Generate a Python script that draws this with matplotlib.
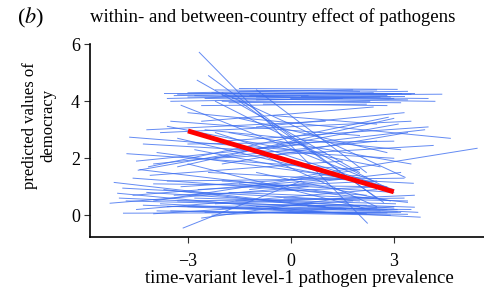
import matplotlib.pyplot as plt

# country-level predicted lines (start x, start y, end x, end y)
x_start = [-3.7, -3.3, -2.0, -1.5, -3.0, -2.5, -1.0, -3.5, -0.5, -2.2, -1.8, -2.8, 0.0, -1.2, -3.6, -2.6, -0.8, -1.5,
           -3.4, -2.3, -1.0, -3.0, -2.0, 0.3, -1.7,
           -2.67, -2.4, -2.73, -3.2, -3.6, -2.0, -1.5, -1.0, -2.2,
           -4.7, -4.78, -4.3, -3.5, -3.0, 0.0, -4.0, -3.8, -2.5, -2.0, -1.5, -4.1, -3.3, -2.0, -1.0, -2.8, -3.9, -0.5,
           -4.5, -2.2, -4.15, -4.45, -3.0, -1.8, -4.2, -2.6, -0.5,
           -5.27, -5.15, -4.88, -3.14, -4.9, -5.0, -4.5, -4.2, -4.6, -3.8, -3.5, -3.0, -2.5, -2.0, -3.2, -2.8, -4.0,
           -1.5, -3.6, -2.4, -1.8, -4.4, -2.2, -1.0, -3.0, -4.0, -0.5, -2.6, -3.4, -1.2, -5.05, -4.3, -3.7, -2.0,
           0.5, -1.6, -1.0, -3.3, -2.2, -0.2,
           -4.8, -3.9, -3.3, -2.7, -4.0, -1.5, -2.3, -3.6, -4.6, -1.0]
y_start = [4.3, 4.25, 4.2, 4.35, 4.15, 4.1, 4.05, 4.0, 4.3, 4.4, 3.95, 4.2, 4.1, 4.2, 4.1, 3.85, 3.9, 4.45,
           4.2, 4.3, 4.15, 4.3, 4.0, 4.2, 4.1,
           5.72, 4.9, 4.74, 3.86, 3.12, 4.3, 4.0, 4.4, 4.0,
           2.74, 2.16, 2.5, 3.3, 3.6, 1.3, 1.8, 2.9, 3.0, 2.6, 3.4, 1.4, 1.7, 1.8, 3.1, 2.3, 2.2, 3.5,
           1.9, 2.0, 1.7, 1.58, 2.5, 2.9, 3.0, 3.3, 2.4,
           0.42, 1.15, 0.07, -0.45, 0.95, 0.6, 0.2, 0.8, 1.3, 0.4, 0.15, 0.3, 0.1, 0.25, 1.0, 0.6, 0.05,
           0.1, 1.2, 1.5, 0.8, 1.6, 0.4, 1.5, 1.8, 0.5, 0.2, -0.1, 0.7, 0.9, 0.77, 0.35, 0.9, 1.2,
           0.3, 0.5, 2.2, 2.7, 2.9, 0.6,
           0.5, 0.15, 0.5, 0.9, 1.1, 1.1, 0.0, 0.3, 0.7, 0.3]
x_end = [3.2, 3.4, 4.4, 2.5, 2.8, 4.2, 3.0, 1.5, 3.6, 2.0, 2.3, 3.4, 2.6, 3.0, 0.5, 2.2, 2.8, 3.1,
         2.4, 3.5, 4.0, 1.8, 3.2, 3.3, 2.9,
         2.23, 2.5, 2.0, 2.4, 2.6, 3.33, 2.7, 2.2, 2.9,
         1.0, 2.0, 3.0, 2.0, 4.65, 5.43, 2.5, 3.5, 3.2, 4.0, 2.8, 1.5, 3.0, 3.4, 3.3, 2.8, 1.8, 2.5,
         0.5, 4.15, 2.84, 3.13, 3.0, 3.5, 1.0, 2.4, 3.9,
         0.5, 1.0, 3.2, 0.3, 2.0, 2.8, 2.5, 3.0, 2.2, 3.77, 3.4, 2.6, 3.1, 3.5, 2.0, 3.05, 1.8,
         2.8, 3.3, 3.57, 2.4, 1.2, 3.6, 2.9, 2.3, 2.0, 2.5, 1.5, 2.7, 3.2, 1.0, 2.2, 1.6, 3.0,
         3.7, 3.6, 2.5, 2.4, 3.0, 3.4,
         2.0, 2.9, 3.3, 2.5, 2.6, 3.4, 3.0, 2.2, 1.5, 3.1]
y_end = [4.3, 4.35, 4.25, 4.4, 4.2, 4.0, 4.1, 4.1, 4.3, 4.35, 4.0, 4.05, 4.15, 4.25, 4.2, 3.9, 3.85, 4.42,
         4.3, 4.25, 4.1, 4.4, 3.95, 4.2, 4.15,
         -0.28, 0.6, 1.5, 1.2, 1.7, 1.33, 0.45, 1.5, 0.9,
         2.2, 1.6, 2.0, 2.8, 2.7, 2.35, 2.6, 3.3, 2.3, 3.1, 2.2, 1.9, 3.4, 2.9, 3.6, 1.0, 1.3, 3.2,
         2.5, 2.45, 3.44, 3.2, 2.6, 1.8, 3.3, 3.8, 3.0,
         1.0, 0.3, 0.1, 1.2, 0.5, 0.2, 0.9, 0.25, 0.7, -0.07, 0.03, 0.15, 0.12, 0.2, 1.4, 0.4, 0.5,
         0.08, 1.3, 1.12, 0.6, 0.8, 0.7, 0.5, 0.2, 1.6, 0.25, 0.6, 1.0, 1.5, 0.1, 0.05, 0.2, 0.8,
         0.1, 0.28, 0.3, 1.1, 0.9, 0.5,
         0.3, 0.0, 0.6, 1.2, 1.0, 0.45, 0.3, 0.35, 1.3, 0.2]

# pooled within-country effect
red_x = [-3, 3]
red_y = [2.96, 0.82]

plt.rcParams['font.family'] = ['Liberation Serif', 'DejaVu Serif']
plt.rcParams['mathtext.fontset'] = 'stix'

fig = plt.figure(figsize=(4.85, 2.92), dpi=100)
ax = fig.add_axes([0.186, 0.189, 0.814, 0.659])

for i in range(len(x_start)):
    ax.plot([x_start[i], x_end[i]], [y_start[i], y_end[i]], color='#3d6ef0', lw=0.7, alpha=0.8)

ax.plot(red_x, red_y, color='#ff0000', lw=3.5, solid_capstyle='butt')

ax.set_xlim(-5.85, 5.66)
ax.set_ylim(-0.76, 6.0)
ax.set_xticks([-3, 0, 3])
ax.set_xticklabels(['\u22123', '0', '3'])
ax.set_yticks([0, 2, 4, 6])
ax.tick_params(labelsize=13, length=4, width=0.8, color='#333333')
ax.tick_params(axis='x', pad=8)
ax.spines['top'].set_visible(False)
ax.spines['right'].set_visible(False)
ax.spines['left'].set_linewidth(1.2)
ax.spines['bottom'].set_linewidth(1.2)

ax.set_xlabel('time-variant level-1 pathogen prevalence', fontsize=13.5, labelpad=2)
ax.xaxis.set_label_coords(0.53, -0.175)
ax.set_ylabel('predicted values of\ndemocracy', fontsize=12, linespacing=1.2)
ax.yaxis.set_label_coords(-0.085, 0.58)

fig.text(0.035, 0.94, '($b$)', fontsize=16, va='center')
fig.text(0.186, 0.94, 'within- and between-country effect of pathogens', fontsize=13.5, va='center')

fig.savefig('out.png', dpi=100)
